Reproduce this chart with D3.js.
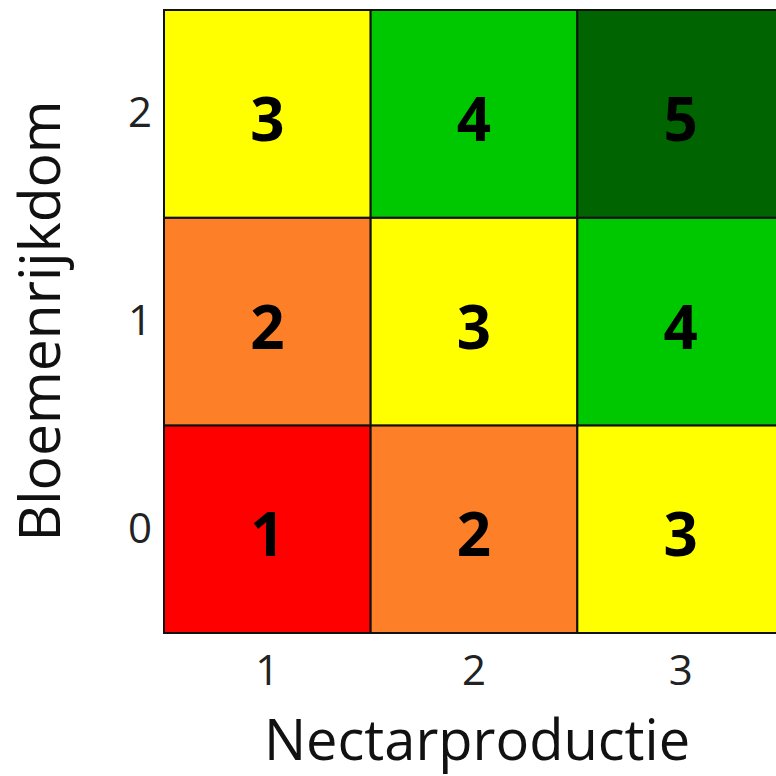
<!DOCTYPE html>
<html>
<head>
<meta charset="utf-8">
<script src="https://cdn.jsdelivr.net/npm/d3@7"></script>
<style>
  body { margin: 0; background: #fff; }
  svg { display: block; font-family: "Open Sans", "DejaVu Sans", sans-serif; }
</style>
</head>
<body>
<svg id="chart"></svg>
<script>
// categorieen en scores
const nectar = ["1", "2", "3"];
const bloemen = ["0", "1", "2"];
// scores[rij][kolom], rij = bloemenrijkdom, kolom = nectarproductie
const scores = [
    [1, 2, 3],
    [2, 3, 4],
    [3, 4, 5]
];
const scoreColors = ["#ff0000", "#fd7f27", "#ffff00", "#00c800", "#006400"];

const width = 776, height = 776;

const svg = d3.select("#chart")
    .attr("width", width)
    .attr("height", height);

// de rechterkolom loopt over de rand heen, net als in het origineel
const x = d3.scaleBand().domain(nectar).range([164, 784]);
const y = d3.scaleBand().domain(bloemen).range([633, 10]);
const color = d3.scaleOrdinal().domain([1, 2, 3, 4, 5]).range(scoreColors);

const cells = [];
bloemen.forEach((b, i) => {
    nectar.forEach((n, j) => {
        cells.push({ x: n, y: b, score: scores[i][j] });
    });
});

const cell = svg.append("g").selectAll("g")
    .data(cells)
    .enter().append("g");

cell.append("rect")
    .attr("x", d => x(d.x))
    .attr("y", d => y(d.y))
    .attr("width", x.bandwidth())
    .attr("height", y.bandwidth())
    .style("fill", d => color(d.score))
    .style("stroke", "#111")
    .style("stroke-width", 2);

cell.append("text")
    .attr("x", d => x(d.x) + x.bandwidth() / 2)
    .attr("y", d => y(d.y) + y.bandwidth() / 2 + 4)
    .attr("text-anchor", "middle")
    .attr("dominant-baseline", "central")
    .style("font-weight", "bold")
    .style("font-size", "60px")
    .style("fill", "#000")
    .text(d => d.score);

// assen
const xAxis = d3.axisBottom(x).tickSize(0).tickPadding(22);
const yAxis = d3.axisLeft(y).tickSize(0).tickPadding(12);

const gx = svg.append("g")
    .attr("transform", "translate(0,633)")
    .call(xAxis);
const gy = svg.append("g")
    .attr("transform", "translate(164,0)")
    .call(yAxis);

gx.select(".domain").remove();
gy.select(".domain").remove();
svg.selectAll(".tick text")
    .style("font-family", "'Open Sans', sans-serif")
    .style("font-size", "42px")
    .style("fill", "#222");

// astitels
svg.append("text")
    .attr("x", 477)
    .attr("y", 760)
    .attr("text-anchor", "middle")
    .style("font-size", "56px")
    .style("fill", "#111")
    .text("Nectarproductie");

svg.append("text")
    .attr("transform", "translate(60,321) rotate(-90)")
    .attr("text-anchor", "middle")
    .style("font-size", "57px")
    .style("fill", "#111")
    .text("Bloemenrijkdom");
</script>
</body>
</html>
